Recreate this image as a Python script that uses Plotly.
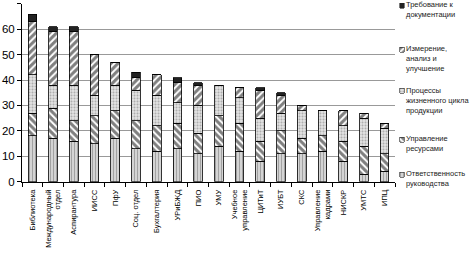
import plotly.graph_objects as go

categories = ["Библиотека", "Международный<br>отдел", "Аспирантура", "ИИСС", "ПфУ", "Соц. отдел",
              "Бухгалтерия", "УРиБЖД", "ПИО", "УМУ", "Учебное<br>управление", "ЦИТиТ", "ИУБТ",
              "СКС", "Управление<br>кадрами", "НИСКР", "УМТС", "ИПЦ"]

otv_ruk = [18, 17, 16, 15, 17, 13, 12, 13, 11, 14, 12, 8, 11, 11, 12, 8, 3, 4]
upr_res = [9, 12, 8, 11, 11, 11, 10, 10, 8, 12, 11, 8, 9, 6, 6, 8, 11, 7]
processy = [15, 9, 14, 8, 10, 12, 12, 8, 11, 12, 10, 9, 7, 11, 10, 6, 11, 10]
izmer = [21, 21, 21, 16, 9, 5, 8, 8, 8, 0, 4, 11, 7, 2, 0, 6, 2, 2]
treb_dok = [3, 2, 2, 0, 0, 2, 0, 2, 1, 0, 0, 1, 1, 0, 0, 0, 0, 0]

series_names = ["Ответственность<br>руководства", "Управление<br>ресурсами",
                "Процессы<br>жизненного цикла<br>продукции", "Измерение,<br>анализ и<br>улучшение",
                "Требование к<br>документации"]
series_values = [otv_ruk, upr_res, processy, izmer, treb_dok]

patterns = [
    dict(shape="|", bgcolor="#d4d4d4", fgcolor="#707070", size=3, solidity=0.35),
    dict(shape="\\", bgcolor="white", fgcolor="black", size=5, solidity=0.6),
    dict(shape=".", bgcolor="#e6e6e6", fgcolor="#707070", size=3, solidity=0.4),
    dict(shape="/", bgcolor="white", fgcolor="black", size=5, solidity=0.6),
    dict(shape="", bgcolor="#222222", fgcolor="#222222"),
]

# legend layout (screen pixel positions of key tops and text centers)
key_tops = [176.5, 140.5, 90.5, 48.5, 3.5]
text_centers = [183, 147, 103, 60, 10]

W, H, L = 474, 256, 22
PW = W - L


def px_x(p):
    return (p - L) / PW


def px_y(p):
    return (H - p) / H


fig = go.Figure()
for name, vals, pat in zip(series_names, series_values, patterns):
    fig.add_trace(go.Bar(
        x=categories, y=vals, name=name, showlegend=False,
        marker=dict(color=pat["bgcolor"], line=dict(color="black", width=0.8), pattern=pat),
        xaxis="x", yaxis="y",
    ))

# manual legend keys
for name, pat, top, tc in zip(series_names, patterns, key_tops, text_centers):
    fig.add_trace(go.Bar(
        x=[0.5], y=[5], base=[top], width=[0.75], showlegend=False, hoverinfo="skip",
        marker=dict(color=pat["bgcolor"], line=dict(color="#222", width=0.6), pattern=pat),
        xaxis="x2", yaxis="y2",
    ))
    fig.add_annotation(text=name, xref="paper", yref="y2", x=px_x(405), y=tc,
                       xanchor="left", yanchor="middle", align="left", showarrow=False,
                       font=dict(size=7.5, color="#222"), borderpad=0)

fig.update_layout(
    barmode="stack",
    bargap=0.58,
    width=W, height=H,
    margin=dict(l=L, r=0, t=0, b=0),
    paper_bgcolor="white", plot_bgcolor="white",
    font=dict(family="Liberation Sans, Arial, sans-serif", color="black"),
    showlegend=False,
    xaxis=dict(domain=[0, px_x(395)], anchor="y", tickangle=-90, tickfont=dict(size=7.5),
               showline=True, linecolor="black", linewidth=1, ticks="outside", ticklen=4,
               tickcolor="black", tickson="boundaries", showgrid=False, ticklabelstandoff=4),
    yaxis=dict(domain=[px_y(186), px_y(4)], anchor="x", range=[0, 70], dtick=10,
               tickfont=dict(size=11.5), showline=True, linecolor="black", linewidth=1,
               ticks="outside", ticklen=4, tickcolor="black", showgrid=True,
               gridcolor="#999999", gridwidth=1),
    xaxis2=dict(domain=[px_x(399), px_x(405)], anchor="y2", range=[0, 1], visible=False,
                fixedrange=True),
    yaxis2=dict(domain=[0, 1], anchor="x2", range=[H, 0], visible=False, fixedrange=True),
)

fig.write_html("out.html", config={"displayModeBar": False},
               post_script="document.body.style.margin='0';document.body.style.overflow='hidden';")
